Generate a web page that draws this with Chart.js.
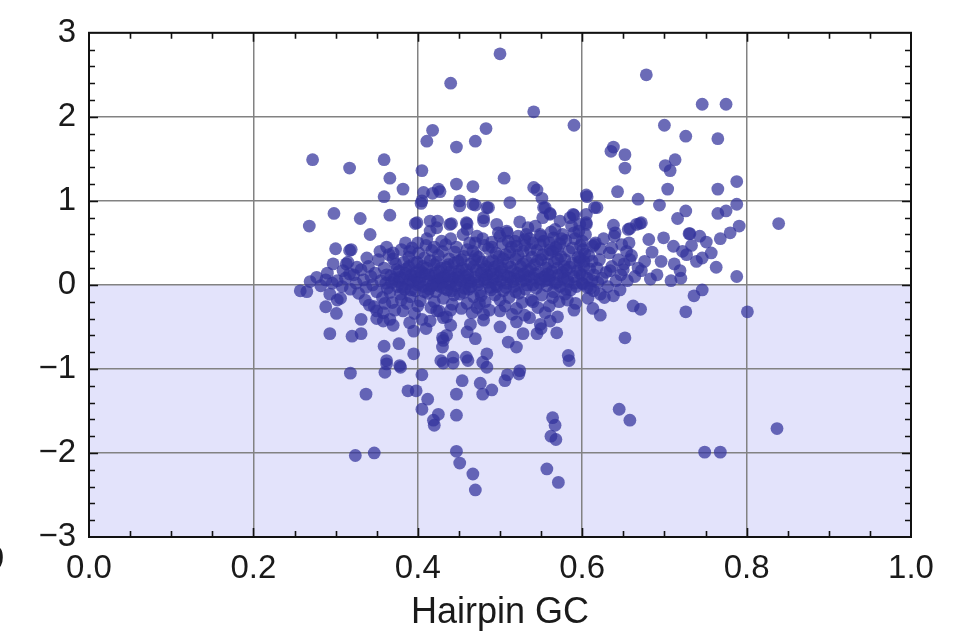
<!DOCTYPE html>
<html>
<head>
<meta charset="utf-8">
<script src="https://cdn.jsdelivr.net/npm/chart.js@4.4.1/dist/chart.umd.min.js"></script>
<style>
  html, body { margin: 0; padding: 0; background: #fff; }
  #gcChart { display: block; }
</style>
</head>
<body>
<canvas id="gcChart" width="963" height="635"></canvas>
<script>
// --- data: [hairpin GC, score] ---
const xTicks = [0, 0.2, 0.4, 0.6, 0.8, 1.0];
const yTicks = [-3, -2, -1, 0, 1, 2, 3];

// scattered points above the main cloud
const upperPoints = [
  [0.500,2.75],[0.440,2.40],[0.541,2.06],[0.590,1.90],[0.418,1.84],[0.483,1.86],[0.411,1.71],
  [0.447,1.64],[0.470,1.71],[0.272,1.49],[0.317,1.39],[0.359,1.49],[0.405,1.36],[0.366,1.27],
  [0.382,1.14],[0.359,1.05],[0.505,1.27],[0.447,1.20],[0.467,1.17],[0.425,1.14],[0.418,1.09],
  [0.541,1.16],[0.545,1.13],[0.512,0.98],[0.405,1.00],[0.404,0.97],[0.451,1.00],[0.451,0.94],
  [0.470,0.95],[0.486,0.92],[0.551,1.03],[0.555,0.92],[0.561,0.85],[0.590,0.83],[0.298,0.85],
  [0.268,0.70],[0.330,0.79],[0.366,0.83],[0.342,0.60],[0.397,0.73],[0.415,0.64],[0.424,0.76],
  [0.441,0.73],[0.460,0.73],[0.480,0.76],[0.427,1.11],[0.407,1.10],[0.467,0.96],[0.484,0.92],
  [0.605,1.07],[0.618,0.92],[0.399,0.74],[0.415,0.76],[0.423,0.68],[0.439,0.72],[0.459,0.74],
  [0.480,0.80],[0.496,0.72],[0.508,0.64],[0.532,0.60],[0.549,0.60],[0.565,0.56],[0.585,0.80],
  [0.597,0.72],[0.573,0.76],[0.553,0.92],[0.561,0.84]
];

// right-hand group, GC 0.6 to 0.85
const rightPoints = [
  [0.678,2.50],[0.746,2.15],[0.775,2.15],[0.700,1.90],[0.726,1.77],[0.765,1.74],[0.638,1.64],
  [0.635,1.59],[0.652,1.55],[0.652,1.39],[0.713,1.49],[0.701,1.42],[0.707,1.36],[0.788,1.23],
  [0.643,1.11],[0.704,1.14],[0.765,1.14],[0.606,1.05],[0.668,1.02],[0.694,0.95],[0.615,0.92],
  [0.788,0.96],[0.765,0.85],[0.775,0.88],[0.726,0.88],[0.716,0.79],[0.589,0.84],[0.605,0.74],
  [0.672,0.74],[0.666,0.72],[0.638,0.71],[0.791,0.70],[0.839,0.73],[0.656,0.66],[0.730,0.61],
  [0.743,0.58],[0.699,0.56],[0.605,0.84],[0.605,0.72],[0.640,0.62],[0.670,0.73],[0.658,0.67],
  [0.731,0.61],[0.751,0.51],[0.681,0.54],[0.711,0.46],[0.657,0.50],[0.654,0.40],[0.615,0.48],
  [0.622,0.43],[0.636,0.44],[0.685,0.39],[0.696,0.28],[0.727,0.36],[0.739,0.28],[0.746,0.32],
  [0.602,0.28],[0.597,0.32],[0.658,0.30],[0.650,0.18],[0.634,0.17],[0.672,0.17],[0.691,0.12],
  [0.708,0.05],[0.719,0.17],[0.788,0.10],[0.601,0.01],[0.614,-0.07],[0.622,-0.11],[0.638,-0.13],
  [0.646,-0.06],[0.746,-0.06],[0.736,-0.13],[0.613,-0.28],[0.622,-0.36],[0.662,-0.25],[0.671,-0.29],
  [0.726,-0.32],[0.801,-0.32],[0.652,-0.63],[0.645,-1.48],[0.658,-1.61],[0.837,-1.71],[0.749,-1.99],
  [0.768,-1.99],[0.668,0.20],[0.676,0.28],[0.683,0.07],[0.712,0.25],[0.722,0.40],[0.733,0.47],
  [0.757,0.38],[0.763,0.21],[0.768,0.55],[0.780,0.62],[0.720,0.08]
];

// dense band around zero
const corePoints = [
  [0.302,0.05],[0.308,-0.02],[0.312,0.08],[0.318,-0.05],[0.322,0.12],[0.325,0.02],[0.328,-0.10],
  [0.331,0.18],[0.334,0.06],[0.337,-0.03],[0.340,0.22],[0.343,0.10],[0.296,0.02],[0.288,0.06],
  [0.282,-0.01],[0.315,0.27],[0.336,-0.18],[0.341,-0.24],[0.319,0.42],[0.300,0.43],[0.317,0.41],
  [0.297,0.25],[0.290,0.14],[0.309,0.17],[0.317,0.13],[0.277,0.09],[0.269,0.04],[0.257,-0.07],
  [0.265,-0.08],[0.338,0.32],[0.326,0.21],[0.313,0.25],
  [0.345,0.00],[0.348,0.14],[0.350,-0.08],[0.352,0.30],[0.355,0.05],[0.357,-0.15],[0.359,0.20],
  [0.361,0.02],[0.363,-0.04],[0.365,0.36],[0.367,0.11],[0.369,-0.21],[0.371,0.07],[0.373,0.25],
  [0.375,-0.02],[0.377,0.16],[0.379,-0.11],[0.380,0.42],[0.354,0.40],[0.362,0.45],[0.370,0.31],
  [0.376,0.04],[0.347,-0.26],[0.358,-0.33],[0.366,-0.09],[0.372,-0.30],
  [0.382,0.08],[0.384,-0.05],[0.386,0.19],[0.388,0.01],[0.389,0.33],[0.391,-0.14],[0.392,0.12],
  [0.394,0.04],[0.395,0.26],[0.397,-0.07],[0.398,0.15],[0.400,0.00],[0.401,0.38],[0.403,-0.19],
  [0.404,0.09],[0.406,0.22],[0.407,-0.02],[0.409,0.13],[0.410,0.47],[0.412,-0.10],[0.413,0.05],
  [0.415,0.29],[0.416,-0.27],[0.418,0.10],[0.419,0.02],[0.383,0.27],[0.387,-0.22],[0.393,0.44],
  [0.396,-0.34],[0.399,0.07],[0.402,0.18],[0.405,-0.41],[0.408,0.32],[0.411,0.55],[0.414,-0.05],
  [0.417,0.41],[0.390,0.06],[0.385,0.50],
  [0.421,0.14],[0.422,-0.08],[0.424,0.06],[0.425,0.35],[0.427,-0.02],[0.428,0.20],[0.430,0.03],
  [0.431,-0.16],[0.433,0.11],[0.434,0.48],[0.436,-0.06],[0.437,0.24],[0.439,0.01],[0.440,0.16],
  [0.442,-0.23],[0.443,0.08],[0.445,0.39],[0.446,-0.01],[0.448,0.13],[0.449,0.28],[0.451,-0.11],
  [0.452,0.05],[0.454,0.20],[0.455,0.60],[0.457,-0.04],[0.458,0.10],[0.423,0.27],[0.426,-0.31],
  [0.429,0.52],[0.432,0.09],[0.435,-0.38],[0.438,0.31],[0.441,0.04],[0.444,-0.12],[0.447,0.45],
  [0.450,0.17],[0.453,-0.28],[0.456,0.34],[0.459,0.02],[0.460,0.66],
  [0.461,0.12],[0.462,-0.05],[0.464,0.25],[0.465,0.04],[0.467,0.40],[0.468,-0.14],[0.470,0.09],
  [0.471,0.18],[0.473,0.00],[0.474,0.33],[0.476,-0.08],[0.477,0.14],[0.479,0.55],[0.480,0.06],
  [0.482,-0.20],[0.483,0.22],[0.485,0.03],[0.486,0.43],[0.488,-0.03],[0.489,0.16],[0.491,0.29],
  [0.492,0.07],[0.494,-0.12],[0.495,0.38],[0.497,0.10],[0.498,0.62],[0.463,0.50],[0.466,-0.33],
  [0.469,0.30],[0.472,0.58],[0.475,-0.22],[0.478,0.27],[0.481,0.47],[0.484,0.12],[0.487,-0.30],
  [0.490,0.51],[0.493,0.21],[0.496,-0.02],[0.499,0.34],
  [0.501,0.05],[0.502,0.20],[0.504,-0.07],[0.505,0.12],[0.507,0.36],[0.508,0.02],[0.510,0.26],
  [0.511,-0.15],[0.513,0.09],[0.514,0.45],[0.516,0.17],[0.517,-0.02],[0.519,0.31],[0.520,0.07],
  [0.522,0.58],[0.523,-0.10],[0.525,0.22],[0.526,0.04],[0.528,0.40],[0.529,0.13],[0.531,-0.05],
  [0.532,0.28],[0.534,0.68],[0.535,0.10],[0.537,0.19],[0.538,-0.18],[0.503,0.49],[0.506,-0.25],
  [0.509,0.62],[0.512,0.39],[0.515,-0.35],[0.518,0.52],[0.521,0.14],[0.524,0.75],[0.527,-0.21],
  [0.530,0.47],[0.533,0.00],[0.536,0.55],[0.539,0.33],
  [0.541,0.08],[0.542,0.24],[0.544,-0.04],[0.545,0.41],[0.547,0.15],[0.548,0.02],[0.550,0.30],
  [0.551,-0.12],[0.553,0.52],[0.554,0.10],[0.556,0.20],[0.557,-0.01],[0.559,0.37],[0.560,0.06],
  [0.562,0.63],[0.563,0.16],[0.565,-0.08],[0.566,0.27],[0.568,0.45],[0.569,0.03],[0.571,0.12],
  [0.572,-0.20],[0.574,0.34],[0.575,0.55],[0.577,0.08],[0.578,0.22],[0.543,0.70],[0.546,-0.27],
  [0.549,0.48],[0.552,0.80],[0.555,-0.33],[0.558,0.13],[0.561,0.42],[0.564,-0.15],[0.567,0.66],
  [0.570,0.31],[0.573,-0.02],[0.576,0.60],[0.579,-0.11],
  [0.581,0.18],[0.583,0.04],[0.584,0.40],[0.586,-0.06],[0.588,0.26],[0.590,0.10],[0.591,0.55],
  [0.593,-0.02],[0.595,0.33],[0.597,0.14],[0.598,0.47],[0.600,0.02],[0.602,0.22],[0.604,0.60],
  [0.606,0.08],[0.608,0.35],[0.610,-0.04],[0.612,0.28],[0.614,0.12],[0.616,0.50],[0.618,0.20],
  [0.582,-0.18],[0.587,0.70],[0.592,-0.22],[0.596,0.64],[0.601,0.42],[0.607,-0.16],[0.613,0.46],
  [0.619,0.03],
  [0.621,0.30],[0.624,0.08],[0.626,0.55],[0.629,0.15],[0.631,-0.02],[0.633,0.38],[0.636,0.22],
  [0.639,0.58],[0.641,0.05],[0.644,0.30],[0.647,0.12],[0.651,0.25],[0.655,0.05],[0.660,0.35],
  [0.664,0.10],[0.627,-0.15],[0.648,0.48]
];

// second pass over the darkest part of the band
const denseBand = [
  [0.362,0.12],[0.368,0.03],[0.374,0.18],[0.378,0.09],[0.381,-0.03],[0.385,0.14],[0.389,0.22],
  [0.392,-0.06],[0.396,0.10],[0.399,0.27],[0.402,0.03],[0.405,0.15],[0.408,-0.08],[0.411,0.20],
  [0.414,0.12],[0.417,-0.01],[0.420,0.24],[0.423,0.00],[0.426,0.16],[0.429,0.08],[0.432,-0.04],
  [0.435,0.21],[0.438,0.11],[0.441,-0.07],[0.444,0.26],[0.447,0.02],[0.450,0.09],[0.453,0.30],
  [0.456,-0.09],[0.459,0.18],[0.462,0.06],[0.465,-0.02],[0.468,0.22],[0.471,0.35],[0.474,0.04],
  [0.477,-0.13],[0.480,0.19],[0.483,0.08],[0.486,0.28],[0.489,-0.06],[0.492,0.13],[0.495,0.01],
  [0.498,0.24],[0.501,0.16],[0.504,0.31],[0.507,-0.03],[0.510,0.10],[0.513,0.21],[0.516,0.04],
  [0.519,-0.08],[0.522,0.35],[0.525,0.11],[0.528,0.25],[0.531,0.06],[0.534,0.17],[0.537,0.42],
  [0.540,0.00],[0.543,0.13],[0.546,0.29],[0.549,0.07],[0.552,0.36],[0.555,0.05],[0.558,0.25],
  [0.561,0.11],[0.564,0.40],[0.567,0.02],[0.570,0.20],[0.573,0.49],[0.576,0.15],[0.579,0.30],
  [0.582,0.08],[0.585,0.21],[0.588,0.44],[0.591,0.02],[0.594,0.17],[0.597,0.28],[0.600,0.12],
  [0.603,0.37],[0.606,-0.03],[0.609,0.19],[0.612,0.05],
  [0.460,0.42],[0.470,0.50],[0.490,0.45],[0.500,0.58],[0.510,0.52],[0.520,0.46],[0.530,0.54],
  [0.540,0.50],[0.550,0.58],[0.560,0.50],[0.570,0.42],[0.580,0.53],[0.590,0.62],[0.600,0.52],
  [0.440,0.55],[0.430,0.40],[0.420,0.45],[0.400,0.50],[0.390,0.40],[0.370,0.38],
  [0.400,-0.25],[0.420,-0.20],[0.440,-0.30],[0.460,-0.22],[0.480,-0.35],[0.500,-0.18],[0.520,-0.28],
  [0.540,-0.20],[0.560,-0.25],[0.580,-0.05],[0.380,-0.18],[0.360,-0.22]
];

// points below the band
const lowerPoints = [
  [0.318,-1.05],[0.360,-1.04],[0.362,-0.94],[0.379,-0.98],[0.405,-1.07],[0.337,-1.30],[0.388,-1.26],
  [0.398,-1.26],[0.412,-1.36],[0.405,-1.48],[0.425,-1.54],[0.419,-1.61],[0.420,-1.67],[0.447,-1.30],
  [0.454,-1.14],[0.447,-1.55],[0.476,-1.17],[0.479,-1.30],[0.490,-1.25],[0.506,-1.14],[0.509,-1.07],
  [0.523,-1.06],[0.524,-1.02],[0.484,-0.98],[0.479,-0.92],[0.431,-0.93],[0.443,-0.93],[0.461,-0.90],
  [0.584,-0.90],[0.564,-1.58],[0.567,-1.67],[0.562,-1.80],[0.568,-1.84],[0.324,-2.03],[0.347,-2.00],
  [0.447,-1.98],[0.451,-2.12],[0.467,-2.25],[0.470,-2.44],[0.557,-2.19],[0.571,-2.35],
  [0.293,-0.11],[0.306,-0.16],[0.302,-0.18],[0.288,-0.26],[0.301,-0.34],[0.293,-0.58],[0.331,-0.41],
  [0.331,-0.58],[0.320,-0.61],[0.350,-0.31],[0.358,-0.43],[0.366,-0.41],[0.359,-0.73],[0.377,-0.70],
  [0.382,-0.31],[0.395,-0.55],[0.395,-0.82],[0.362,-0.90],[0.378,-0.96],[0.430,-0.63],[0.430,-0.74],
  [0.428,-0.90],[0.415,-0.43],[0.423,-0.31],[0.431,-0.39],[0.431,-0.66],[0.443,-0.86],[0.459,-0.86],
  [0.464,-0.47],[0.484,-0.82],[0.520,-0.74],[0.528,-0.58],[0.545,-0.58],[0.549,-0.47],[0.561,-0.43],
  [0.569,-0.57],[0.583,-0.84],[0.500,-0.31],[0.536,-0.39],[0.472,-0.27],
  [0.390,-0.45],[0.410,-0.52],[0.440,-0.48],[0.460,-0.56],[0.480,-0.42],[0.500,-0.50],[0.520,-0.44],
  [0.530,-0.36],[0.550,-0.52],[0.570,-0.38],[0.590,-0.30],[0.435,-0.60],[0.470,-0.64],[0.510,-0.68],
  [0.370,-0.48],[0.350,-0.40]
];

const allPoints = [...corePoints, ...denseBand, ...upperPoints, ...rightPoints, ...lowerPoints]
  .map(p => ({ x: p[0], y: p[1] }));

const fontFamily = "'Liberation Sans', Arial, sans-serif";
const tickFont = { family: fontFamily, size: 33 };
const minus = v => (v < 0 ? '\u2212' + Math.abs(v) : String(v));

// light shading under zero, frame and minor ticks
const framePlugin = {
  id: 'frame',
  beforeDraw(chart) {
    const { ctx, chartArea: a, scales: { y } } = chart;
    const y0 = y.getPixelForValue(0);
    ctx.save();
    ctx.fillStyle = '#e3e3fb';
    ctx.fillRect(a.left, y0, a.right - a.left, a.bottom - y0);
    ctx.restore();
  },
  afterDraw(chart) {
    const { ctx, chartArea: a, scales: { x, y } } = chart;
    ctx.save();
    ctx.strokeStyle = '#111';
    ctx.lineWidth = 1.6;
    ctx.beginPath();
    for (let i = 1; i < 20; i++) {
      const v = i * 0.05;
      const len = i % 4 === 0 ? 9 : 6;
      const px = Math.round(x.getPixelForValue(v)) + 0.5;
      ctx.moveTo(px, a.bottom); ctx.lineTo(px, a.bottom - len);
      ctx.moveTo(px, a.top); ctx.lineTo(px, a.top + len);
    }
    for (let i = 1; i < 30; i++) {
      const v = -3 + i * 0.2;
      const len = i % 5 === 0 ? 9 : 6;
      const py = Math.round(y.getPixelForValue(v)) + 0.5;
      ctx.moveTo(a.left, py); ctx.lineTo(a.left + len, py);
      ctx.moveTo(a.right, py); ctx.lineTo(a.right - len, py);
    }
    ctx.stroke();
    ctx.lineWidth = 2;
    ctx.strokeRect(a.left, a.top, a.right - a.left, a.bottom - a.top);
    // clipped label from neighbouring panel at the left edge
    ctx.fillStyle = '#1a1a1a';
    ctx.font = '33px ' + fontFamily;
    ctx.textAlign = 'right';
    ctx.textBaseline = 'middle';
    ctx.fillText('0', 4, 560);
    ctx.restore();
  }
};

new Chart(document.getElementById('gcChart'), {
  type: 'scatter',
  data: {
    datasets: [{
      data: allPoints,
      backgroundColor: 'rgba(50, 50, 155, 0.72)',
      borderWidth: 0,
      pointRadius: 6.4,
      pointHoverRadius: 6.4
    }]
  },
  options: {
    responsive: false,
    animation: false,
    events: [],
    layout: { padding: { left: 0, right: 52, top: 31, bottom: 0 } },
    plugins: { legend: { display: false }, tooltip: { enabled: false } },
    scales: {
      x: {
        type: 'linear', min: 0, max: 1,
        afterBuildTicks: s => { s.ticks = xTicks.map(v => ({ value: v })); },
        afterFit: s => { s.height = 98; },
        ticks: { font: tickFont, color: '#1a1a1a', padding: 12, maxRotation: 0,
                 callback: v => v.toFixed(1) },
        grid: { color: '#828282', lineWidth: 1.5, drawTicks: false },
        border: { display: false },
        title: { display: true, text: 'Hairpin GC', color: '#1a1a1a',
                 font: { family: fontFamily, size: 36 }, padding: { top: 0, bottom: 0 } }
      },
      y: {
        type: 'linear', min: -3, max: 3,
        afterBuildTicks: s => { s.ticks = yTicks.map(v => ({ value: v })); },
        afterFit: s => { s.width = 89; },
        ticks: { font: tickFont, color: '#1a1a1a', padding: 13, callback: v => minus(v) },
        grid: { color: '#828282', lineWidth: 1.5, drawTicks: false },
        border: { display: false }
      }
    }
  },
  plugins: [framePlugin]
});
</script>
</body>
</html>
